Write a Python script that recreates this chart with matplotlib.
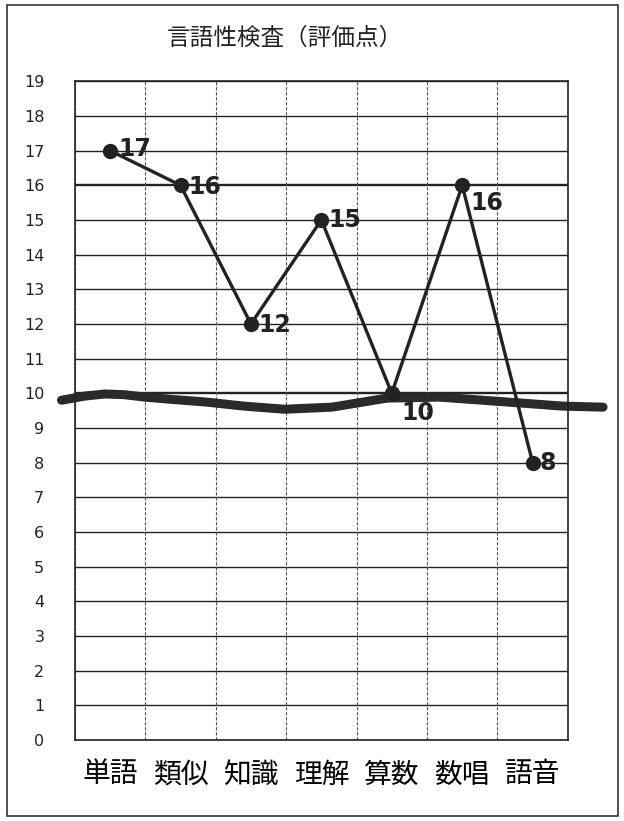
import matplotlib
matplotlib.use('Agg')
import matplotlib.pyplot as plt
from matplotlib.patches import Rectangle

plt.rcParams['font.family'] = ['Noto Sans CJK JP', 'DejaVu Sans']

categories = ['単語', '類似', '知識', '理解', '算数', '数唱', '語音']
scores = [17, 16, 12, 15, 10, 16, 8]
yticks = list(range(0, 20))
# hand drawn line around 10 (x in category units, y in score units)
hand_x = [-0.69, -0.36, -0.07, 0.2, 0.49, 0.9, 1.35, 1.9, 2.48, 3.15, 3.93, 4.68, 5.49, 6.43, 7.0]
hand_y = [9.8, 9.92, 9.98, 9.96, 9.89, 9.82, 9.75, 9.63, 9.54, 9.6, 9.86, 9.89, 9.77, 9.63, 9.6]
# label offsets (points) for each value label
label_dx = [6, 6, 5, 5, 7, 6, 5]
label_dy = [1, -1, -1, 0, -14, -13, 0]

fig = plt.figure(figsize=(6.24, 8.21), dpi=100)
ax = fig.add_axes([0.120, 0.0987, 0.790, 0.8023])

x = list(range(len(categories)))
ax.set_xlim(-0.5, len(categories) - 0.5)
ax.set_ylim(0, 19)

for v in yticks:
    lw = 1.7 if v in (10, 16) else 1.0
    ax.axhline(v, color='#222222', lw=lw, zorder=1)
for i in range(len(categories) + 1):
    ax.axvline(i - 0.5, color='#555555', lw=0.8, ls=(0, (3, 1.5)), zorder=1)

ax.plot(hand_x, hand_y, color='#2a2a2a', lw=6.5, solid_capstyle='round',
        solid_joinstyle='round', clip_on=False, zorder=2)
ax.plot(x, scores, color='#222222', lw=2.4, marker='o', ms=10, zorder=3)

for i, s in enumerate(scores):
    ax.annotate(str(s), (i, s), xytext=(label_dx[i], label_dy[i]), textcoords='offset points',
                ha='left', va='center', fontsize=17, fontweight='bold', family='DejaVu Sans', color='#222222')

ax.set_xticks(x)
ax.set_xticklabels(categories, fontsize=20)
ax.set_yticks(yticks)
ax.set_yticklabels([str(v) for v in yticks], fontsize=11.5, family='DejaVu Sans', color='#222222')
ax.tick_params(length=0)
ax.tick_params(axis='y', pad=22)
ax.tick_params(axis='x', pad=14)
for sp in ax.spines.values():
    sp.set_color('#222222')
    sp.set_linewidth(1.2)

fig.text(0.457, 0.953, '言語性検査（評価点）', ha='center', va='center', fontsize=17, color='#222222')
fig.patches.append(Rectangle((0.012, 0.006), 0.978, 0.988, transform=fig.transFigure,
                             fill=False, edgecolor='#333333', lw=1.2))

fig.savefig('out.png', dpi=100)
